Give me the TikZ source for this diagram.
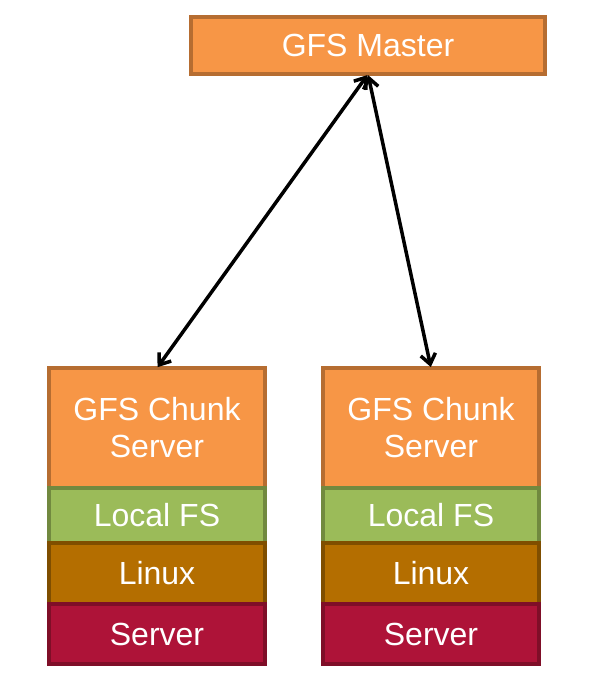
\documentclass[tikz,border=0pt]{standalone}
\usepackage{fontspec}
\setmainfont{Liberation Sans}
\usetikzlibrary{positioning}
\usetikzlibrary{arrows.meta}

\definecolor{gfsorange}{HTML}{F79646}
\definecolor{gfsorangeline}{HTML}{B66D31}
\definecolor{gfsgreen}{HTML}{9BBB59}
\definecolor{gfsgreenline}{HTML}{71893F}
\definecolor{gfsbrown}{HTML}{B46E00}
\definecolor{gfsbrownline}{HTML}{7F4E00}
\definecolor{gfsred}{HTML}{AE1338}
\definecolor{gfsredline}{HTML}{7F0E28}

\tikzset{
	layer/.style={draw, line width=4pt, inner sep=0pt, outer sep=0pt, text=white,
		minimum width=216.5pt, align=center,
		font=\fontsize{32}{37}\selectfont},
	master/.style={layer, fill=gfsorange, draw=gfsorangeline, minimum width=354.5pt, minimum height=57.5pt},
	chunk/.style={layer, fill=gfsorange, draw=gfsorangeline, minimum height=120pt},
	localfs/.style={layer, fill=gfsgreen, draw=gfsgreenline, minimum height=55pt},
	linux/.style={layer, fill=gfsbrown, draw=gfsbrownline, minimum height=61pt},
	hw/.style={layer, fill=gfsred, draw=gfsredline, minimum height=60pt}
}

\begin{document}
\begin{tikzpicture}[x=1pt, y=-1pt]
\useasboundingbox (0,0) rectangle (599,688);
\node[master] (m) at (368,45.5) {GFS Master};
% left stack
\node[chunk] (cl) at (157,428) {GFS Chunk\\Server};
\node[localfs, below=0pt of cl] (fl) {Local FS};
\node[linux, below=0pt of fl] (ll) {Linux};
\node[hw, below=0pt of ll] (sl) {Server};
% right stack
\node[chunk] (cr) at (431,428) {GFS Chunk\\Server};
\node[localfs, below=0pt of cr] (fr) {Local FS};
\node[linux, below=0pt of fr] (lr) {Linux};
\node[hw, below=0pt of lr] (sr) {Server};
\path[{Straight Barb[length=10pt,width=15pt]}-{Straight Barb[length=10pt,width=15pt]}, line width=3.5pt, shorten <=1pt, shorten >=1pt]
(m.south) edge (cl.north)
(m.south) edge (cr.north);
\end{tikzpicture}
\end{document}
